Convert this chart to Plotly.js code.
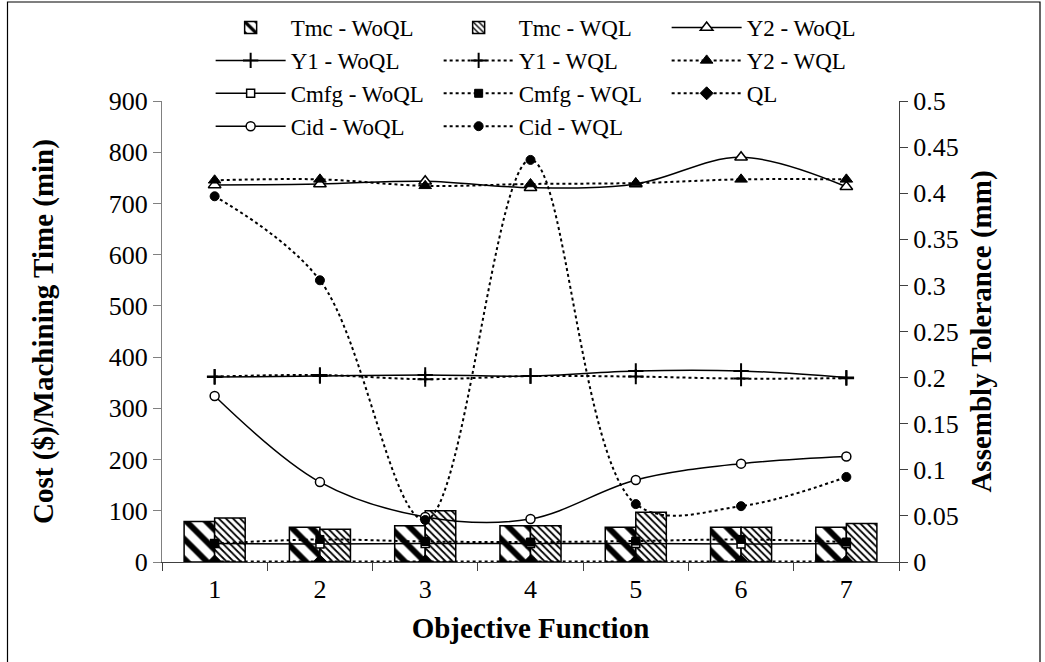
<!DOCTYPE html>
<html><head><meta charset="utf-8">
<script src="https://cdn.plot.ly/plotly-3.0.1.min.js"></script>
<style>html,body{margin:0;padding:0;background:#fff}#chart{width:1045px;height:662px}</style>
</head><body><div id="chart"></div>
<script>
// ---- data ----
const categories = ['1','2','3','4','5','6','7'];
const tmcWoQL  = [79, 68, 71, 71, 68, 68, 68];
const tmcWQL   = [86, 64, 100, 71, 97, 68, 75];
const y2WoQL   = [0.409, 0.410, 0.413, 0.406, 0.410, 0.439, 0.407];
const y1WoQL   = [0.2006, 0.2017, 0.2028, 0.2017, 0.2072, 0.2072, 0.2000];
const y1WQL    = [0.2011, 0.2028, 0.1983, 0.2017, 0.2011, 0.1989, 0.1994];
const y2WQL    = [0.414, 0.415, 0.408, 0.410, 0.411, 0.415, 0.415];
const cmfgWoQL = [36, 35, 36, 36, 36, 35, 36];
const cmfgWQL  = [36, 44, 40, 39, 41, 44, 39];
const qlVals   = [1, 1, 1, 1, 1, 1, 1];
const cidWoQL  = [324, 156, 88, 84, 160, 192, 206];
const cidWQL   = [714, 550, 82, 785, 113, 109, 166];
const leftTicks  = [0,100,200,300,400,500,600,700,800,900];
const rightTickVals = [0,0.05,0.1,0.15,0.2,0.25,0.3,0.35,0.4,0.45,0.5];
const rightTickText = ['0','0.05','0.1','0.15','0.2','0.25','0.3','0.35','0.4','0.45','0.5'];

const FONT = '"Liberation Serif", "Times New Roman", Times, serif';
const BLK = '#000';
const solid  = {color: BLK, width: 1.5, shape: 'spline', smoothing: 1};
const dotted = {color: BLK, width: 2, dash: '3px,3px', shape: 'spline', smoothing: 1};

function line(name, y, ln, marker, axis) {
  return {type: 'scatter', mode: 'lines+markers', name: name, x: categories, y: y,
          yaxis: axis || 'y', line: ln, marker: marker, hoverinfo: 'skip'};
}
const openM  = (sym, size) => ({symbol: sym, size: size, color: '#fff', line: {color: BLK, width: 1.5}});
const fillM  = (sym, size) => ({symbol: sym, size: size, color: BLK, line: {color: BLK, width: 1}});
const crossM = {symbol: 'cross-thin', size: 11, color: BLK, line: {color: BLK, width: 2}};

const traces = [
  {type: 'bar', name: 'Tmc - WoQL', x: categories, y: tmcWoQL, hoverinfo: 'skip',
   marker: {color: '#fff', line: {color: BLK, width: 1.5},
            pattern: {shape: '\\', fgcolor: BLK, bgcolor: '#fff', size: 14, solidity: 0.42, fillmode: 'replace'}}},
  {type: 'bar', name: 'Tmc - WQL', x: categories, y: tmcWQL, hoverinfo: 'skip',
   marker: {color: '#fff', line: {color: BLK, width: 1.5},
            pattern: {shape: '\\', fgcolor: BLK, bgcolor: '#fff', size: 5, solidity: 0.35, fillmode: 'replace'}}},
  line('Y2 - WoQL', y2WoQL, solid, openM('triangle-up', 11), 'y2'),
  line('Y1 - WoQL', y1WoQL, solid, crossM, 'y2'),
  line('Y1 - WQL', y1WQL, dotted, crossM, 'y2'),
  line('Y2 - WQL', y2WQL, dotted, fillM('triangle-up', 11), 'y2'),
  line('Cmfg - WoQL', cmfgWoQL, solid, openM('square', 8)),
  line('Cmfg - WQL', cmfgWQL, dotted, fillM('square', 8)),
  line('QL', qlVals, dotted, fillM('diamond', 10)),
  line('Cid - WoQL', cidWoQL, solid, openM('circle', 9)),
  line('Cid - WQL', cidWQL, dotted, fillM('circle', 9))
];

const layout = {
  width: 1045, height: 662,
  margin: {l: 162, r: 146, t: 101, b: 100, pad: 0, autoexpand: false},
  paper_bgcolor: '#fff', plot_bgcolor: '#fff',
  font: {family: FONT, size: 26, color: BLK},
  barmode: 'group', bargap: 0.42, bargroupgap: 0,
  showlegend: true,
  legend: {orientation: 'h', x: 0.066, xanchor: 'left', y: 1.206, yanchor: 'top',
           font: {family: FONT, size: 23, color: BLK}, entrywidth: 143, entrywidthmode: 'pixels',
           itemwidth: 70, bgcolor: 'rgba(0,0,0,0)', traceorder: 'normal'},
  xaxis: {type: 'category', tickson: 'boundaries', ticks: 'outside', ticklen: 8, tickwidth: 1,
          tickcolor: '#404040', showline: true, linecolor: '#404040', linewidth: 1,
          showgrid: false, zeroline: false, range: [-0.5, 6.5], ticklabelstandoff: 4,
          tickfont: {family: FONT, size: 26},
          title: {text: 'Objective Function', font: {family: FONT, size: 29, weight: 'bold'}, standoff: 14}},
  yaxis: {range: [0, 900], tickvals: leftTicks, ticks: 'outside', ticklen: 8, tickcolor: '#808080',
          showline: true, linecolor: '#808080', linewidth: 1, showgrid: false, zeroline: false,
          tickfont: {family: FONT, size: 26},
          title: {text: 'Cost ($)/Machining Time (min)', font: {family: FONT, size: 29, weight: 'bold'}, standoff: 46}},
  yaxis2: {range: [0, 0.5], overlaying: 'y', side: 'right', tickvals: rightTickVals, ticktext: rightTickText,
           ticks: 'outside', ticklen: 8, tickcolor: '#404040', showline: true, linecolor: '#404040',
           linewidth: 1, showgrid: false, zeroline: false, tickfont: {family: FONT, size: 26},
           title: {text: 'Assembly Tolerance (mm)', font: {family: FONT, size: 29, weight: 'bold'}, standoff: 12}},
  shapes: [{type: 'rect', xref: 'paper', yref: 'paper',
            x0: (7.5 - 162) / 737, x1: (1040 - 162) / 737, y0: (562 - 672) / 461, y1: (562 - 2) / 461,
            line: {color: BLK, width: 1.2}, fillcolor: 'rgba(0,0,0,0)', layer: 'below'}]
};

Plotly.newPlot('chart', traces, layout, {staticPlot: true, displayModeBar: false});
</script></body></html>
